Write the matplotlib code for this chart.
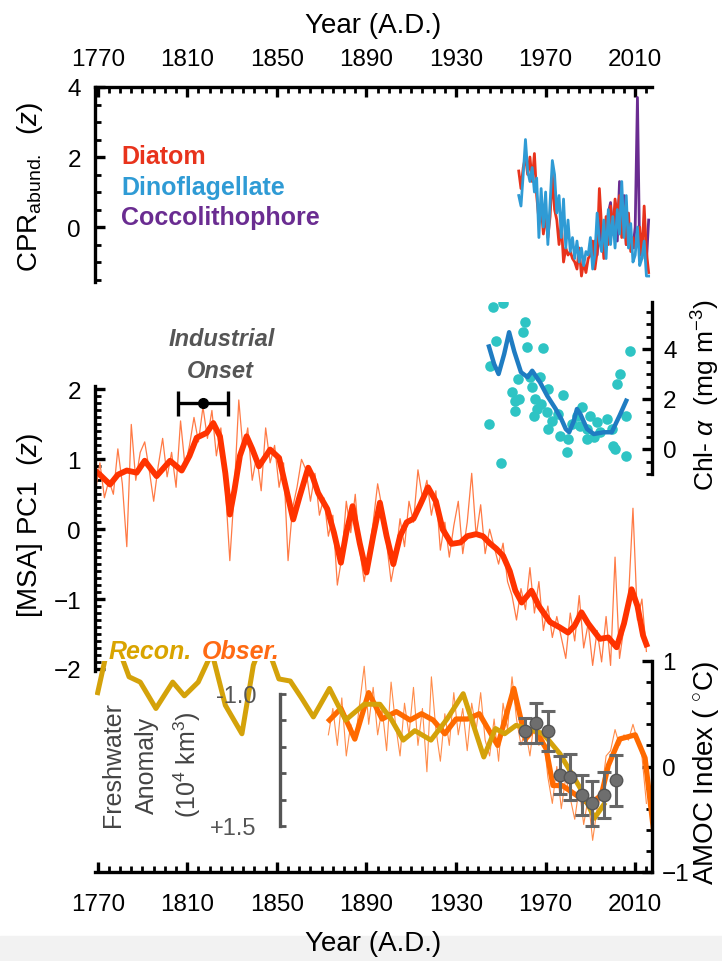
import numpy as np
import matplotlib
matplotlib.use("Agg")
import matplotlib.pyplot as plt
from matplotlib.ticker import MultipleLocator, FixedLocator, FixedFormatter
from matplotlib.patches import Rectangle

plt.rcParams['font.family'] = ['Liberation Sans', 'DejaVu Sans']
plt.rcParams['mathtext.fontset'] = 'custom'
plt.rcParams['mathtext.rm'] = 'Liberation Sans'
plt.rcParams['mathtext.it'] = 'Liberation Sans:italic'

# ---- data ----
year_ticks = [1770, 1810, 1850, 1890, 1930, 1970, 2010]

# CPR abundance (z), annual 1958-2016
cpr_years = np.arange(1958, 2017)
diatom = [1.6, 1.1, 1.7, 2.0, 1.5, 2.0, 1.3, 2.1, 0.9, 0.2,
          0.6, -0.2, 0.4, -0.3, 0.3, 1.5, 0.5, 0.2, -0.5, 0.1,
          -1.0, -0.6, -0.8, -0.7, -0.9, -1.0, -1.2, -0.6, -1.4, -1.0,
          -1.3, -0.9, -0.8, -0.4, -1.2, -0.7, 1.1, 0.0, -0.9, 0.3,
          -0.5, 0.6, -0.2, 0.8, 0.3, 0.9, -0.3, 0.6, -0.5, 0.4,
          -0.7, -0.3, -0.6, -0.2, 0.0, -0.9, 0.6, -0.7, -1.3]
dinoflag = [0.9, 0.6, 1.5, 2.5, 1.6, 1.3, 1.7, 1.0, 1.4, -0.3,
            1.1, 0.0, 1.0, -0.5, 0.7, 1.9, 1.5, 0.4, 0.9, -0.3,
            0.8, -0.6, 0.2, -0.7, -0.3, -0.9, -0.4, -1.0, -0.6, -1.1,
            -0.7, -0.8, -0.3, -1.2, -0.8, 0.4, -0.4, -0.7, 0.2, -0.9,
            0.5, -0.5, 0.3, -0.6, 0.5, -0.2, 1.3, -0.3, 0.9, -0.6,
            0.1, -1.0, -0.8, 0.0, -1.1, -0.9, -0.4, -1.4, -1.4]
cocco_years = np.arange(1990, 2017)
cocco = [-0.5, -0.9, -0.4, -0.8, 0.2, -0.5, 0.0, -0.3, 0.4, 0.7,
         -0.2, 0.5, -0.4, 1.3, 0.2, 0.9, -0.5, -0.2, -0.4, -0.6,
         0.0, 3.7, -0.8, -0.2, -0.5, -1.0, 0.2]

# Chl-a (mg m-3)
chl_pt_years = [1946.5, 1951, 1947.8, 1945, 1944.7, 1949.9, 1960.8, 1960, 1961.7, 1969,
                1957.6, 1963, 1967.5, 1955, 1956.3, 1956.3, 1963.9, 1965.3, 1971, 1966,
                1964.6, 1970.7, 1972.8, 1971, 1977.8, 1975.6, 1976.4, 1980, 1979.6, 1984,
                1986.3, 1985.5, 1988.5, 1991.5, 1990, 1993, 1994.5, 1997.5, 1999.5, 2000,
                2001, 2006, 2002, 2003, 2007.8, 2006, 1988.5, 1982, 1968, 1958]
chl_pt_vals = [5.67, 5.84, 4.33, 3.33, 1.0, -0.56, 5.07, 4.68, 4.07, 4.04,
               2.8, 2.88, 2.88, 2.28, 1.93, 1.53, 2.48, 2.0, 2.4, 1.6,
               1.33, 1.47, 1.13, 0.8, 2.16, 1.4, 0.53, 0.4, -0.13, 1.33,
               1.67, 0.93, 0.8, 0.47, 1.33, 1.07, 0.67, 1.2, 0.8, 0.13,
               0.0, -0.27, 2.6, 3.0, 3.93, 1.33, 0.4, 1.0, 1.8, 2.0]
chl_line_years = [1944.7, 1947, 1949, 1951.5, 1953.7, 1956, 1959, 1962, 1964, 1967.5,
                  1970.7, 1974.5, 1977, 1979, 1980.5, 1982.5, 1984, 1985.5, 1988.5, 1991.5,
                  1996, 1999.5, 2003, 2006]
chl_line_vals = [4.1, 3.4, 3.0, 3.8, 4.67, 3.9, 3.07, 2.87, 3.13, 2.67,
                 2.13, 1.6, 1.2, 0.8, 0.67, 1.1, 1.6, 1.4, 0.8, 0.6,
                 0.67, 0.67, 1.33, 1.93]

# [MSA] PC1 (z)
msa_years = np.arange(1769, 2016, 2)
msa_raw = [0.55, 0.95, 0.45, 0.70, 0.50, 1.15, 0.65, -0.25, 1.50, 0.70,
           1.10, 1.25, 0.85, 0.40, 0.90, 1.30, 0.75, 1.10, 0.60, 1.55,
           0.90, 1.20, 1.60, 1.25, 1.75, 1.30, 1.70, 1.05, 1.45, 0.60,
           -0.45, 0.55, 1.85, 1.10, 1.45, 0.70, 1.05, 0.55, 1.45, 0.95,
           1.20, 0.60, 0.95, -0.45, 0.30, 0.60, 1.00, 0.85, 0.40, 0.80,
           0.20, 0.45, -0.10, 0.20, -0.80, -0.40, 0.40, -0.05, 0.50, -0.30,
           -0.75, -0.35, 0.10, 0.65, 0.30, -0.20, -0.75, -0.40, 0.15, -0.25,
           0.40, 0.10, 0.85, 0.45, 0.70, 0.20, 0.55, -0.30, 0.10, -0.40,
           0.05, 0.40, -0.35, 0.10, 0.80, -0.10, 0.35, -0.35, 0.00, -0.25,
           -0.50, -0.20, -0.75, -0.95, -1.30, -0.85, -1.15, -0.55, -1.20, -0.75,
           -1.45, -1.10, -1.55, -1.25, -1.55, -1.85, -1.20, -1.60, -0.95, -1.70,
           -1.35, -1.95, -1.45, -1.90, -1.25, -1.95, -0.40, -1.85, -1.40, -1.00,
           0.30, -1.30, -1.00, -1.75]
msa_sm_years = [1768.8, 1771, 1775.5, 1779, 1783, 1787.4, 1791, 1796.3, 1802.3, 1807.5,
                1811, 1814.2, 1818.7, 1821.6, 1824.6, 1827, 1829, 1831, 1833.5, 1836.5,
                1839, 1842, 1847, 1851, 1854, 1857.3, 1860, 1864, 1866, 1868.4,
                1872.5, 1875.5, 1878.6, 1881, 1883.8, 1887, 1890, 1893, 1896, 1899,
                1902, 1905, 1908, 1911, 1914, 1917.5, 1921, 1924, 1928, 1932,
                1935, 1939, 1942, 1945, 1948, 1951, 1954, 1956.5, 1959.3, 1963.7,
                1967, 1972, 1976, 1980, 1983, 1986, 1989, 1994.2, 1998, 2001.7,
                2005, 2008.4, 2011, 2013.5, 2015]
msa_sm = [0.84, 0.78, 0.64, 0.78, 0.84, 0.81, 0.98, 0.76, 0.98, 0.84,
          1.05, 1.31, 1.38, 1.52, 1.33, 0.80, 0.21, 0.55, 1.05, 1.33,
          1.15, 0.90, 1.14, 1.02, 0.60, 0.14, 0.45, 0.88, 0.75, 0.52,
          0.29, -0.05, -0.48, -0.05, 0.33, -0.20, -0.62, -0.10, 0.38, -0.10,
          -0.50, -0.10, 0.10, 0.15, 0.35, 0.60, 0.40, 0.00, -0.21, -0.19,
          -0.10, -0.07, -0.10, -0.20, -0.28, -0.38, -0.60, -0.88, -1.05, -0.88,
          -1.10, -1.33, -1.40, -1.48, -1.38, -1.19, -1.35, -1.57, -1.55, -1.69,
          -1.35, -0.86, -1.10, -1.52, -1.65]
onset_year, onset_val, onset_lo, onset_hi = 1817.1, 1.81, 1806.0, 1828.3

# AMOC index (deg C): observed annual / smoothed, reconstruction, grey estimates
obs_years = np.arange(1873, 2016, 2)
obs_raw = [0.30, 0.55, 0.20, 0.65, 0.10, 0.40, 0.25, 0.60, 0.95, 0.40,
           0.75, 0.30, 0.55, 0.15, 0.80, 0.40, 0.10, 0.60, 0.30, 0.75,
           0.20, 0.55, -0.05, 0.85, 0.35, 0.05, 0.50, 0.20, 0.70, 0.30,
           0.55, 0.15, 0.60, 0.35, 0.70, 0.25, 0.10, 0.45, 0.05, 0.60,
           0.35, 0.85, 0.45, 0.20, 0.35, 0.10, 0.45, 0.20, 0.30, -0.10,
           -0.35, 0.00, -0.40, -0.10, -0.30, -0.50, -0.20, -0.55, -0.30, -0.70,
           -0.40, -0.25, 0.10, 0.15, 0.35, 0.20, 0.30, 0.25, 0.40, 0.25,
           0.10, -0.35]
obs_sm_years = [1873.5, 1878.6, 1884.8, 1891, 1897, 1903.3, 1909.5, 1914.6, 1919.8, 1925,
                1930, 1935.2, 1940.4, 1948.6, 1955.8, 1961, 1965, 1970.2, 1973.3, 1977.4,
                1983.6, 1989.7, 1994.9, 1998, 2003, 2010, 2014.4, 2018.6]
obs_sm = [0.44, 0.55, 0.26, 0.70, 0.45, 0.52, 0.44, 0.50, 0.44, 0.31,
          0.45, 0.45, 0.50, 0.20, 0.74, 0.26, 0.36, 0.17, -0.18, -0.18,
          -0.27, -0.36, -0.27, 0.01, 0.26, 0.30, 0.08, -0.68]
recon_years = [1770, 1774.7, 1778.8, 1784, 1789, 1796, 1803.5, 1808.7, 1814.9, 1821,
               1827, 1834.4, 1839.5, 1843, 1846.7, 1850.9, 1856, 1861, 1866.3, 1873.5,
               1880.7, 1889, 1896, 1901, 1906.4, 1911.6, 1918.8, 1926, 1933.2, 1942.4,
               1947.6, 1951.7, 1956.8, 1962, 1969, 1976.4, 1985.6, 1991.8, 1996]
recon = [0.70, 1.15, 1.15, 0.85, 0.80, 0.55, 0.80, 0.67, 0.80, 1.08,
         0.58, 0.31, 0.96, 1.15, 1.08, 0.83, 0.81, 0.65, 0.47, 0.74,
         0.44, 0.59, 0.59, 0.45, 0.25, 0.34, 0.25, 0.45, 0.69, 0.09,
         0.36, 0.31, 0.39, 0.36, 0.31, 0.12, -0.21, -0.49, -0.36]
est_years = [1960.8, 1965.7, 1971, 1976.4, 1980.8, 1986.1, 1990.6, 1996, 2001.4]
est_vals = [0.34, 0.41, 0.34, -0.08, -0.10, -0.27, -0.35, -0.27, -0.13]
est_err = [0.12, 0.19, 0.19, 0.18, 0.22, 0.19, 0.21, 0.22, 0.24]

# ---- layout (pixel boxes of the 722x962 reference) ----
W, H = 722, 962
def rect(x0, y0, x1, y1):
    return [x0 / W, 1 - y1 / H, (x1 - x0) / W, (y1 - y0) / H]

def fpos(x, y):
    return x / W, 1 - y / H

XL = (1768.8, 2017.5)
FS = 17.5    # tick labels
LFS = 20     # axis labels
SPW = 2.4

fig = plt.figure(figsize=(W / 100, H / 100), dpi=100)
fig.patches.append(Rectangle((0, 0), 1, 25 / H, transform=fig.transFigure,
                             color='#f2f2f2', zorder=-5))

def style(ax, sides):
    ax.set_facecolor('none')
    for s in ['top', 'bottom', 'left', 'right']:
        ax.spines[s].set_visible(s in sides)
        ax.spines[s].set_linewidth(SPW)
    ax.set_xlim(*XL)
    ax.tick_params(which='major', direction='in', length=7, width=SPW, labelsize=FS)
    ax.tick_params(which='minor', direction='in', length=4, width=2.0)

# CPR panel
ax1 = fig.add_axes(rect(95, 88, 652, 283))
style(ax1, ['top', 'left'])
ax1.set_ylim(-1.57, 4)
ax1.plot(cocco_years, cocco, color='#6a2c91', lw=2.0)
ax1.plot(cpr_years, diatom, color='#e8331c', lw=2.0)
ax1.plot(cpr_years, dinoflag, color='#2f9bd5', lw=2.0)
ax1.xaxis.tick_top()
ax1.xaxis.set_label_position('top')
ax1.set_xticks(year_ticks)
ax1.xaxis.set_minor_locator(MultipleLocator(5))
ax1.set_yticks([0, 2, 4])
ax1.yaxis.set_minor_locator(MultipleLocator(0.5))
ax1.tick_params(axis='x', which='both', top=True, bottom=False, labeltop=True,
                labelbottom=False, pad=12)
ax1.tick_params(axis='y', which='both', left=True, right=False, pad=10)
ax1.set_xlabel('Year (A.D.)', fontsize=LFS, labelpad=12)
for txt, col, yy in [('Diatom', '#e8331c', 157), ('Dinoflagellate', '#2f9bd5', 188),
                     ('Coccolithophore', '#6a2c91', 218)]:
    fig.text(*fpos(121, yy), txt, color=col, fontsize=18, fontweight='bold', va='center')
fig.text(*fpos(30, 187), 'CPR$_{\\mathrm{abund.}}$  ($z$)', rotation=90,
         ha='center', va='center', fontsize=LFS)

# MSA PC1 panel
ax2 = fig.add_axes(rect(95, 387, 652, 672))
style(ax2, ['left'])
ax2.set_ylim(-2.03, 2.05)
ax2.plot(msa_years, msa_raw, color='#ff7a45', lw=0.9)
ax2.plot(msa_sm_years, msa_sm, color='#ff3300', lw=4.2, solid_joinstyle='round')
ax2.errorbar([onset_year], [onset_val],
             xerr=[[onset_year - onset_lo], [onset_hi - onset_year]],
             fmt='o', color='black', ms=7, elinewidth=2.4, capsize=9, capthick=2.4)
ax2.set_xticks([])
ax2.set_yticks([-2, -1, 0, 1, 2])
ax2.yaxis.set_minor_locator(MultipleLocator(0.1))
ax2.tick_params(axis='y', which='both', left=True, right=False, pad=10)
fig.text(*fpos(222, 340), 'Industrial', color='#555555', fontsize=17,
         fontweight='bold', fontstyle='italic', ha='center', va='center')
fig.text(*fpos(220, 372), 'Onset', color='#555555', fontsize=17,
         fontweight='bold', fontstyle='italic', ha='center', va='center')
fig.text(*fpos(30, 525), '[MSA] PC1  ($z$)', rotation=90,
         ha='center', va='center', fontsize=LFS)

# Chl-a panel
ax3 = fig.add_axes(rect(95, 303, 652, 475))
style(ax3, ['right'])
ax3.set_ylim(-1.0, 5.88)
ax3.scatter(chl_pt_years, chl_pt_vals, s=58, color='#2ec4c4', zorder=2, linewidths=0)
ax3.plot(chl_line_years, chl_line_vals, color='#1f7cc2', lw=3.2, zorder=3)
ax3.set_xticks([])
ax3.yaxis.tick_right()
ax3.set_yticks([0, 2, 4])
ax3.yaxis.set_minor_locator(MultipleLocator(0.5))
ax3.tick_params(axis='y', which='both', right=True, left=False, pad=8)
fig.text(*fpos(706, 395), 'Chl- $\\alpha$  (mg m$^{-3}$)', rotation=90,
         ha='center', va='center', fontsize=19)

# AMOC panel
ax4 = fig.add_axes(rect(95, 662, 652, 873))
style(ax4, ['bottom', 'right'])
ax4.set_ylim(-1, 1)
ax4.plot(obs_years, obs_raw, color='#ff8c4a', lw=0.8)
ax4.plot(obs_sm_years, obs_sm, color='#ff6a00', lw=3.8, solid_joinstyle='round')
ax4.plot(recon_years, recon, color='#d4a20a', lw=3.6, solid_joinstyle='round')
ax4.errorbar(est_years, est_vals, yerr=est_err, fmt='o', ms=9,
             mfc='#6e6e6e', mec='#555555', ecolor='#666666',
             elinewidth=2.2, capsize=5, capthick=2.2, zorder=5)
ax4.yaxis.tick_right()
ax4.set_xticks(year_ticks)
ax4.xaxis.set_minor_locator(MultipleLocator(5))
ax4.set_yticks([-1, 0, 1])
ax4.yaxis.set_minor_locator(MultipleLocator(0.2))
ax4.tick_params(axis='x', which='both', bottom=True, top=False, pad=15)
ax4.tick_params(axis='y', which='both', right=True, left=False, pad=7)
ax4.set_xlabel('Year (A.D.)', fontsize=LFS, labelpad=11)
fig.text(*fpos(706, 773), 'AMOC Index ( $^{\\circ}$C)', rotation=90,
         ha='center', va='center', fontsize=LFS)
fig.text(*fpos(109, 652), 'Recon.', color='#d9a400', fontsize=18,
         fontweight='bold', fontstyle='italic', va='center')
fig.text(*fpos(202, 652), 'Obser.', color='#ff6a13', fontsize=18,
         fontweight='bold', fontstyle='italic', va='center')

# freshwater anomaly scale bar
ax5 = fig.add_axes(rect(280, 695, 300, 827))
ax5.set_facecolor('none')
for s in ['top', 'bottom', 'right']:
    ax5.spines[s].set_visible(False)
ax5.spines['left'].set_color('#555555')
ax5.spines['left'].set_linewidth(2.4)
ax5.set_ylim(1.5, -1.0)
ax5.set_xticks([])
fw_ticks = [-1.0, -0.5, 0.0, 0.5, 1.0, 1.5]
ax5.yaxis.set_major_locator(FixedLocator(fw_ticks))
ax5.yaxis.set_major_formatter(FixedFormatter(['-1.0', '', '', '', '', '+1.5']))
ax5.tick_params(axis='y', direction='in', length=4, width=2, color='#555555',
                labelcolor='#555555', labelsize=17, pad=17)
for txt, xx in [('Freshwater', 113), ('Anomaly', 147), ('(10$^{4}$ km$^{3}$)', 187)]:
    fig.text(*fpos(xx, 765), txt, rotation=90, ha='center', va='center',
             fontsize=18, color='#444444')

fig.savefig('out.png', dpi=100)
